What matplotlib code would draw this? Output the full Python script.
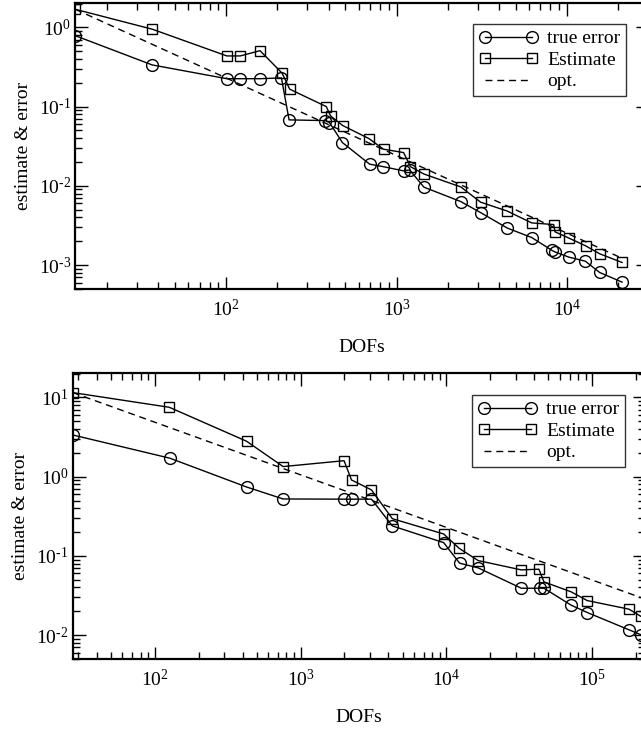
import numpy as np
import matplotlib
matplotlib.use("Agg")
import matplotlib.pyplot as plt
from matplotlib.ticker import LogLocator, FuncFormatter, NullFormatter

plt.rcParams['font.family'] = ['Liberation Serif', 'DejaVu Serif']
plt.rcParams['mathtext.fontset'] = 'custom'
plt.rcParams['mathtext.rm'] = 'Liberation Serif'

# ---- top panel data ----
top_err_x = [13, 36.7, 100.8, 121, 158, 211, 234, 382, 404, 481, 695, 832, 1101,
             1194, 1449, 2384, 3118, 4477, 6220, 8200, 8500, 10300, 12850, 15600, 21100]
top_err_y = [0.785, 0.336, 0.225, 0.225, 0.225, 0.23, 0.068, 0.0666, 0.063, 0.0352,
             0.0188, 0.0175, 0.01546, 0.0159, 0.00963, 0.00634, 0.0046, 0.00293,
             0.00223, 0.00153, 0.00147, 0.00126, 0.00112, 0.000807, 0.00061]
top_est_x = [13, 36.9, 100.8, 121, 158, 213, 236, 387, 410, 484, 689, 839, 1101,
             1206, 1449, 2384, 3118, 4477, 6220, 8375, 8530, 10300, 12900, 15600, 21100]
top_est_y = [1.69, 0.946, 0.436, 0.436, 0.508, 0.264, 0.166, 0.1, 0.0763, 0.0576,
             0.0395, 0.029, 0.0263, 0.0175, 0.0141, 0.0097, 0.00623, 0.0048,
             0.00341, 0.00325, 0.00263, 0.00219, 0.00175, 0.00139, 0.00108]
top_opt_x = [13, 21100]
top_opt_y = [1.69, 0.00122]

# ---- bottom panel data ----
bot_err_x = [27.4, 127, 426, 759, 1986, 2234, 3062, 4256, 9570, 12300, 16500,
             32600, 43500, 46600, 71600, 92300, 178000, 216000]
bot_err_y = [3.36, 1.71, 0.741, 0.523, 0.52, 0.52, 0.52, 0.239, 0.147, 0.081,
             0.0706, 0.0391, 0.0391, 0.0391, 0.0239, 0.0193, 0.0117, 0.0101]
bot_est_x = [27.4, 126, 426, 759, 1986, 2234, 3062, 4256, 9570, 12190, 16500,
             32600, 43000, 46600, 71600, 92300, 178000, 216000]
bot_est_y = [11.5, 7.5, 2.8, 1.34, 1.59, 0.908, 0.68, 0.295, 0.189, 0.125, 0.0873,
             0.0666, 0.068, 0.047, 0.0352, 0.0273, 0.0213, 0.0172]
bot_opt_x = [27.4, 230000]
bot_opt_y = [11.5, 0.0285]

fig = plt.figure(figsize=(6.41, 7.29), dpi=100)
ax1 = fig.add_axes([0.1175, 0.6036, 0.8935, 0.3923])
ax2 = fig.add_axes([0.1134, 0.0960, 0.8930, 0.3923])


def pow_fmt(v, pos):
    e = int(round(np.log10(v)))
    if e < 0:
        return r'$\mathregular{10^{\text{-}%d}}$' % (-e)
    return r'$\mathregular{10^{%d}}$' % e


def style(ax, xlim, ylim, leg_anchor):
    ax.set_xscale('log')
    ax.set_yscale('log')
    ax.set_xlim(*xlim)
    ax.set_ylim(*ylim)
    ax.xaxis.set_major_locator(LogLocator(base=10))
    ax.yaxis.set_major_locator(LogLocator(base=10))
    ax.xaxis.set_minor_locator(LogLocator(base=10, subs=np.arange(2, 10)))
    ax.yaxis.set_minor_locator(LogLocator(base=10, subs=np.arange(2, 10)))
    ax.xaxis.set_major_formatter(FuncFormatter(pow_fmt))
    ax.yaxis.set_major_formatter(FuncFormatter(pow_fmt))
    ax.xaxis.set_minor_formatter(NullFormatter())
    ax.yaxis.set_minor_formatter(NullFormatter())
    ax.tick_params(which='both', direction='in', top=True, right=True,
                   labelsize=14, width=1.0)
    ax.tick_params(which='major', length=9)
    ax.tick_params(which='minor', length=5)
    ax.tick_params(axis='x', which='major', pad=7)
    ax.tick_params(axis='y', which='major', pad=3)
    for s in ax.spines.values():
        s.set_linewidth(1.6)
    ax.set_xlabel('DOFs', fontsize=14, labelpad=14)
    ax.set_ylabel('estimate & error', fontsize=14, labelpad=5)
    leg = ax.legend(loc='upper right', bbox_to_anchor=leg_anchor, numpoints=2,
                    fontsize=14, frameon=True, fancybox=False, borderpad=0.3,
                    labelspacing=0.2, handlelength=3.0, handletextpad=0.5,
                    borderaxespad=0)
    leg.get_frame().set_edgecolor('black')
    leg.get_frame().set_linewidth(1.0)


mk = dict(color='black', lw=1.0, markerfacecolor='none', markeredgewidth=1.0)

ax1.plot(top_err_x, top_err_y, marker='o', ms=8.5, label='true error', **mk)
ax1.plot(top_est_x, top_est_y, marker='s', ms=7.5, label='Estimate', **mk)
ax1.plot(top_opt_x, top_opt_y, color='black', lw=1.0, ls=(0, (5, 3.5)), label='opt.')
style(ax1, (13, 3e4), (5e-4, 2.03), (0.9616, 0.9266))

ax2.plot(bot_err_x, bot_err_y, marker='o', ms=8.5, label='true error', **mk)
ax2.plot(bot_est_x, bot_est_y, marker='s', ms=7.5, label='Estimate', **mk)
ax2.plot(bot_opt_x, bot_opt_y, color='black', lw=1.0, ls=(0, (5, 3.5)), label='opt.')
style(ax2, (27.4, 2.3e5), (5e-3, 20.3), (0.965, 0.923))

fig.savefig('out.png', dpi=100)
